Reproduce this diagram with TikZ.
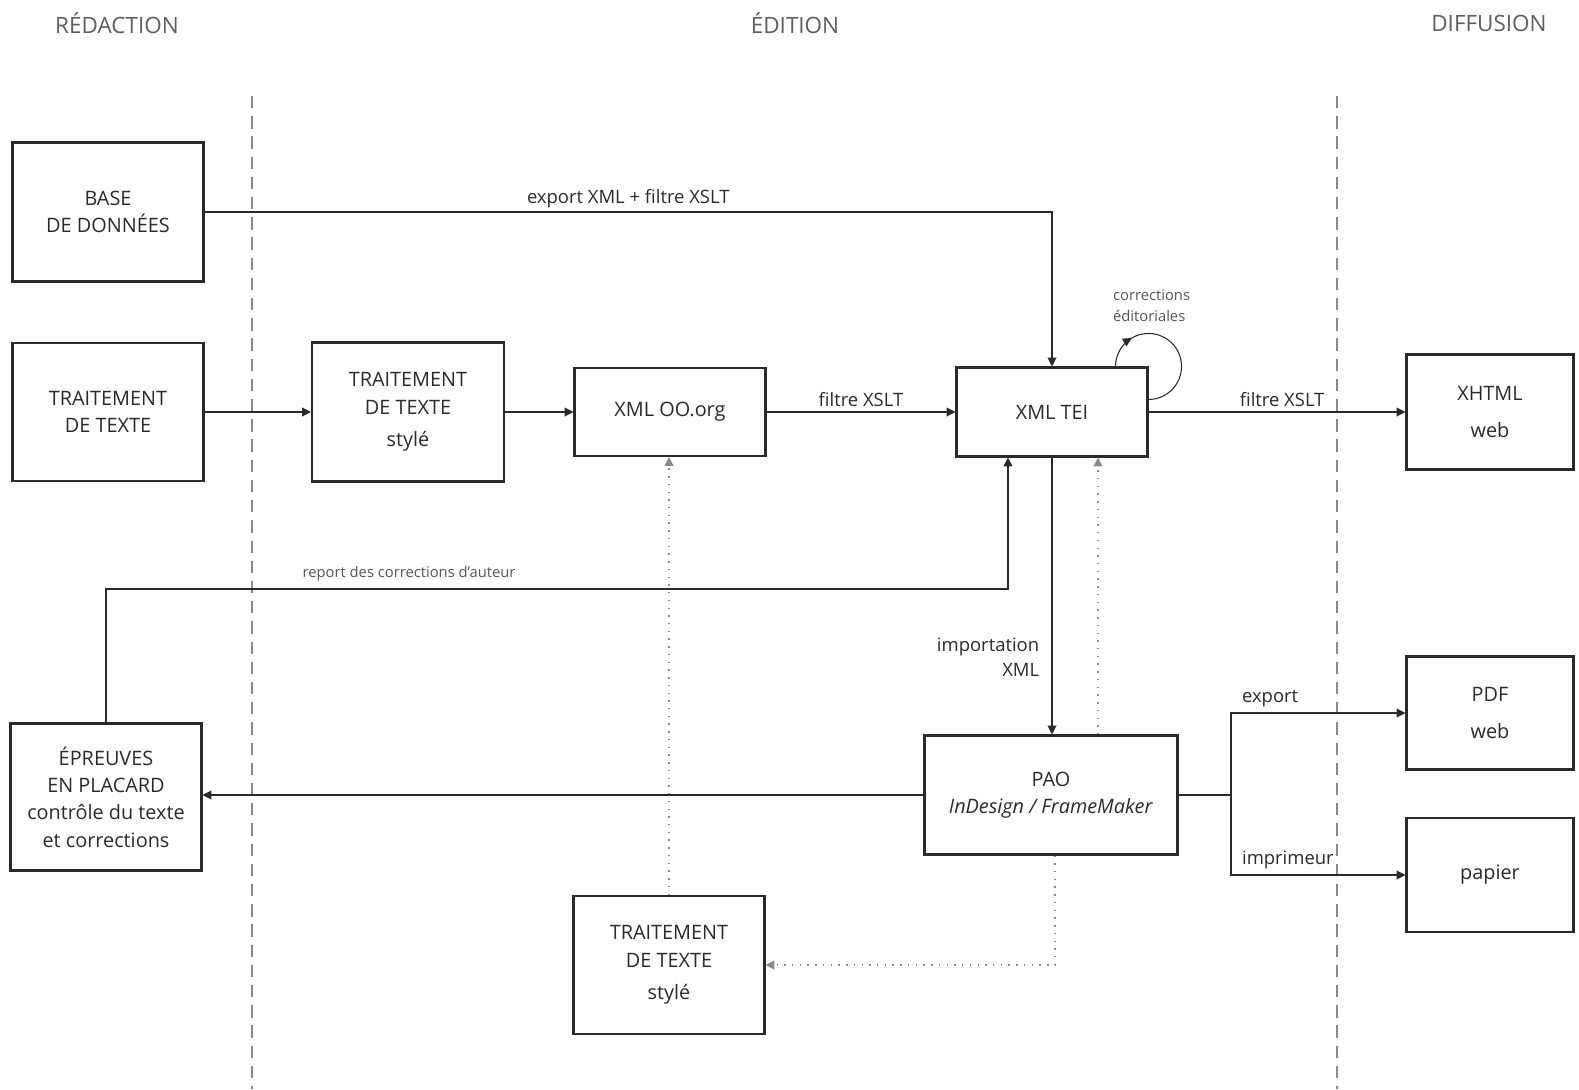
\documentclass[tikz,border=0pt]{standalone}
\usepackage{fontspec}
\setmainfont{Open Sans}
\usetikzlibrary{arrows.meta,decorations.markings}
\definecolor{ink}{HTML}{2A2A2A}
\definecolor{rule}{HTML}{8A8A8A}

\begin{document}
\begin{tikzpicture}[x=0.02cm,y=-0.02cm,
    box/.style={draw=ink,line width=1.2pt,text=ink,align=center,inner sep=0pt,font=\fontsize{11.3}{15.5}\selectfont},
    link/.style={draw=ink,line width=0.6pt,-{Triangle[length=5pt,width=5pt]}},
    dots/.style={link,draw=rule,line width=0.8pt,dash pattern=on 0.8pt off 3.6pt},
    split/.style={rule,line width=0.9pt,dash pattern=on 7pt off 4.5pt},
    lbl/.style={text=ink,font=\fontsize{10.5}{14}\selectfont,inner sep=1pt},
    small/.style={text=ink!80,font=\fontsize{8.4}{12}\selectfont,inner sep=1pt},
    head/.style={text=ink!75,font=\fontsize{12.8}{14}\selectfont}]
    \useasboundingbox (0,0) rectangle (1579,1089);

    % en-tetes
    \node[head] (hred) at (117,23) {RÉDACTION};
    \node[head] (hedi) at (795,23) {ÉDITION};
    \node[head] (hdif) at (1489,23) {DIFFUSION};
    \draw[split] (252,96) -- (252,1089);
    \draw[split] (1337,96) -- (1337,1089);

    % boites
    \node[box,minimum width=3.82cm,minimum height=2.78cm] (base) at (108,212) {BASE\\DE DONNÉES};
    \node[box,minimum width=3.82cm,minimum height=2.76cm] (tt1) at (108,412) {TRAITEMENT\\DE TEXTE};
    \node[box,minimum width=3.84cm,minimum height=2.78cm] (tt2) at (408,412) {TRAITEMENT\\DE TEXTE\\[3pt]stylé};
    \node[box,minimum width=3.82cm,minimum height=1.76cm] (oo) at (670,412) {XML OO.org};
    \node[box,minimum width=3.82cm,minimum height=1.78cm] (tei) at (1052,412) {XML TEI};
    \node[box,minimum width=3.34cm,minimum height=2.30cm] (xhtml) at (1490,412) {XHTML\\[5pt]web};
    \node[box,minimum width=3.34cm,minimum height=2.26cm] (pdf) at (1490,713) {PDF\\[5pt]web};
    \node[box,minimum width=3.34cm,minimum height=2.28cm] (papier) at (1490,875) {papier};
    \node[box,minimum width=5.06cm,minimum height=2.38cm] (pao) at (1051,795) {PAO\\\textit{InDesign / FrameMaker}};
    \node[box,minimum width=3.82cm,minimum height=2.94cm] (epr) at (106,797) {ÉPREUVES\\EN PLACARD\\contrôle du texte\\et corrections};
    \node[box,minimum width=3.82cm,minimum height=2.76cm] (tt3) at (669,965) {TRAITEMENT\\DE TEXTE\\[3pt]stylé};

    % liaisons
    \draw[link] (base.east) -- node[lbl,above=1pt,pos=0.5]{export XML + filtre XSLT} (base.east -| tei.north) -- (tei.north);
    \draw[link] (tt1) -- (tt2);
    \draw[link] (tt2) -- (oo);
    \draw[link] (oo) -- node[lbl,above=2pt]{filtre XSLT} (tei);
    \draw[link] (tei) -- node[lbl,above=2pt,pos=0.52]{filtre XSLT} (xhtml);
    \draw[ink,line width=0.6pt,postaction={decorate},decoration={markings,mark=at position 0.22 with {\arrow{Triangle[length=5pt,width=5pt]}}}]
        ([xshift=-0.66cm]tei.north east) arc[start angle=180,end angle=-90,radius=0.66cm];
    \node[small,align=left,anchor=south west] (edito) at (1111,324) {corrections\\éditoriales};

    \draw[link] (tei.south) -- node[lbl,pos=0.72,left=6pt,align=right]{importation\\XML} (tei.south |- pao.north);
    \draw[dots] ([xshift=0.94cm]pao.north) -- ([xshift=0.94cm]pao.north |- tei.south);
    \coordinate (rep) at (1008,589);
    \draw[link] (epr.north) |- node[small,pos=0.668,above=3pt]{report des corrections d'auteur} (rep) -- (rep |- tei.south);
    \draw[link] (pao.west) -- (pao.west -| epr.east);
    \draw[dots] ([xshift=0.08cm]pao.south) |- (tt3.east);
    \draw[dots] (tt3.north) -- (tt3.north |- oo.south);

    \coordinate (fork) at (1231,795);
    \draw[ink,line width=0.6pt] (pao.east) -- (fork);
    \draw[link] (fork) |- node[lbl,pos=0.5,anchor=south west,xshift=5pt,yshift=2pt]{export} (pdf.west);
    \draw[link] (fork) |- node[lbl,pos=0.5,anchor=south west,xshift=5pt,yshift=2pt]{imprimeur} (papier.west);
\end{tikzpicture}
\end{document}
